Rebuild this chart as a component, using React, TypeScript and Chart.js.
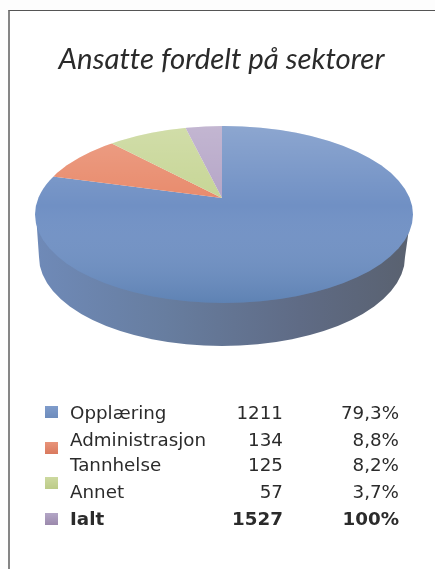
import React, { useEffect, useRef } from "react";
import { Chart, registerables } from "chart.js";

Chart.register(...registerables);

const TITLE = "Ansatte fordelt på sektorer";
const categories = ["Opplæring", "Administrasjon", "Tannhelse", "Annet"];
const counts = [1211, 134, 125, 57];
const shares = ["79,3%", "8,8%", "8,2%", "3,7%"];
const totalLabel = "Ialt";
const totalCount = "1527";
const totalShare = "100%";
const sliceColors = ["#7090c4", "#e8896a", "#c6d594", "#b4a4c6"];
const swatchTop = ["#7f9ccb", "#e8947a", "#cdd9a0", "#b3a6c6"];
const swatchBottom = ["#6d8cbc", "#d9795e", "#bccb88", "#9b89ac"];

const APEX = { x: 222, y: 198 };
const FACE = { cx: 224, cy: 214.5, rx: 189, ry: 88.5 };
const SIDE = { cx: 222, cy: 257, rx: 183, ry: 89 };
const SQUASH = 0.46;

const pie3d = {
  id: "pie3d",
  beforeDraw(chart: any) {
    // a non-zero spacing switches off the "tt" ligature in the title
    chart.ctx.letterSpacing = "0.01px";
  },
  beforeDatasetsDraw(chart: any) {
    const ctx = chart.ctx;
    ctx.save();
    // extruded wall
    const g = ctx.createLinearGradient(35, 0, 413, 0);
    g.addColorStop(0, "#6f8ab8");
    g.addColorStop(0.35, "#677d9f");
    g.addColorStop(0.7, "#5f6b85");
    g.addColorStop(1, "#59616f");
    ctx.fillStyle = g;
    ctx.beginPath();
    ctx.ellipse(SIDE.cx, SIDE.cy, SIDE.rx, SIDE.ry, 0, 0, Math.PI);
    ctx.lineTo(FACE.cx - FACE.rx + 1, FACE.cy);
    ctx.lineTo(FACE.cx + FACE.rx - 2, FACE.cy);
    ctx.closePath();
    ctx.fill();
    ctx.restore();

    ctx.save();
    ctx.beginPath();
    ctx.ellipse(FACE.cx, FACE.cy, FACE.rx, FACE.ry, 0, 0, Math.PI * 2);
    ctx.clip();
    const arc = chart.getDatasetMeta(0).data[0];
    ctx.translate(APEX.x, APEX.y);
    ctx.scale(1, SQUASH);
    ctx.translate(-arc.x, -arc.y);
  },
  afterDatasetsDraw(chart: any) {
    const ctx = chart.ctx;
    ctx.restore();
    // top-lit sheen over the face
    ctx.save();
    ctx.beginPath();
    ctx.ellipse(FACE.cx, FACE.cy, FACE.rx, FACE.ry, 0, 0, Math.PI * 2);
    ctx.clip();
    const s = ctx.createLinearGradient(0, 126, 0, 303);
    s.addColorStop(0, "rgba(255,255,255,0.2)");
    s.addColorStop(0.45, "rgba(255,255,255,0)");
    s.addColorStop(1, "rgba(30,80,120,0.22)");
    ctx.fillStyle = s;
    ctx.fillRect(0, 100, 435, 230);
    ctx.restore();
  },
};

const cellFont: React.CSSProperties = {
  position: "absolute",
  fontFamily: "'DejaVu Sans', sans-serif",
  fontSize: 18.3,
  lineHeight: "20px",
  color: "#2b2b2b",
  whiteSpace: "nowrap",
};

const rowY = [403, 430, 455, 482, 509];
const swatchY = [406, 442, 477, 513];

export default function App() {
  const ref = useRef<HTMLCanvasElement>(null);
  useEffect(() => {
    document.body.style.margin = "0";
    document.body.style.background = "#fdfdfd";
    const chart = new Chart(ref.current!, {
      type: "pie",
      data: {
        labels: categories,
        datasets: [
          {
            data: counts,
            backgroundColor: sliceColors,
            borderWidth: 0,
            radius: 260,
            clip: false,
          } as any,
        ],
      },
      options: {
        animation: false,
        responsive: false,
        rotation: 0,
        layout: { padding: { left: 8 } },
        plugins: {
          legend: { display: false },
          tooltip: { enabled: false },
          title: {
            display: true,
            text: TITLE,
            color: "#2a2a2a",
            font: { family: "Lato", size: 29.4, style: "italic", weight: "normal" },
            padding: { top: 42, bottom: 0 },
          },
        },
      },
      plugins: [pie3d],
    });
    return () => chart.destroy();
  }, []);

  return (
    <div style={{ position: "relative", width: 435, height: 569, overflow: "hidden" }}>
      <div
        style={{
          position: "absolute",
          left: 8,
          top: 10,
          width: 440,
          height: 580,
          borderLeft: "2px solid #858585",
          borderTop: "1px solid #555",
          background: "#fff",
        }}
      />
      <canvas
        ref={ref}
        width={435}
        height={569}
        style={{ position: "absolute", left: 0, top: 0, filter: "blur(0.7px)" }}
      />
      {categories.map((c, i) => (
        <React.Fragment key={c}>
          <div
            style={{
              position: "absolute",
              left: 45,
              top: swatchY[i],
              width: 13,
              height: 12,
              background: `linear-gradient(${swatchTop[i]}, ${swatchBottom[i]})`,
            }}
          />
          <div style={{ ...cellFont, left: 70, top: rowY[i] }}>{c}</div>
          <div style={{ ...cellFont, right: 152, top: rowY[i] }}>{counts[i]}</div>
          <div style={{ ...cellFont, right: 36, top: rowY[i] }}>{shares[i]}</div>
        </React.Fragment>
      ))}
      <div style={{ ...cellFont, left: 70, top: rowY[4], fontWeight: 700 }}>{totalLabel}</div>
      <div style={{ ...cellFont, right: 152, top: rowY[4], fontWeight: 700 }}>{totalCount}</div>
      <div style={{ ...cellFont, right: 36, top: rowY[4], fontWeight: 700 }}>{totalShare}</div>
    </div>
  );
}
